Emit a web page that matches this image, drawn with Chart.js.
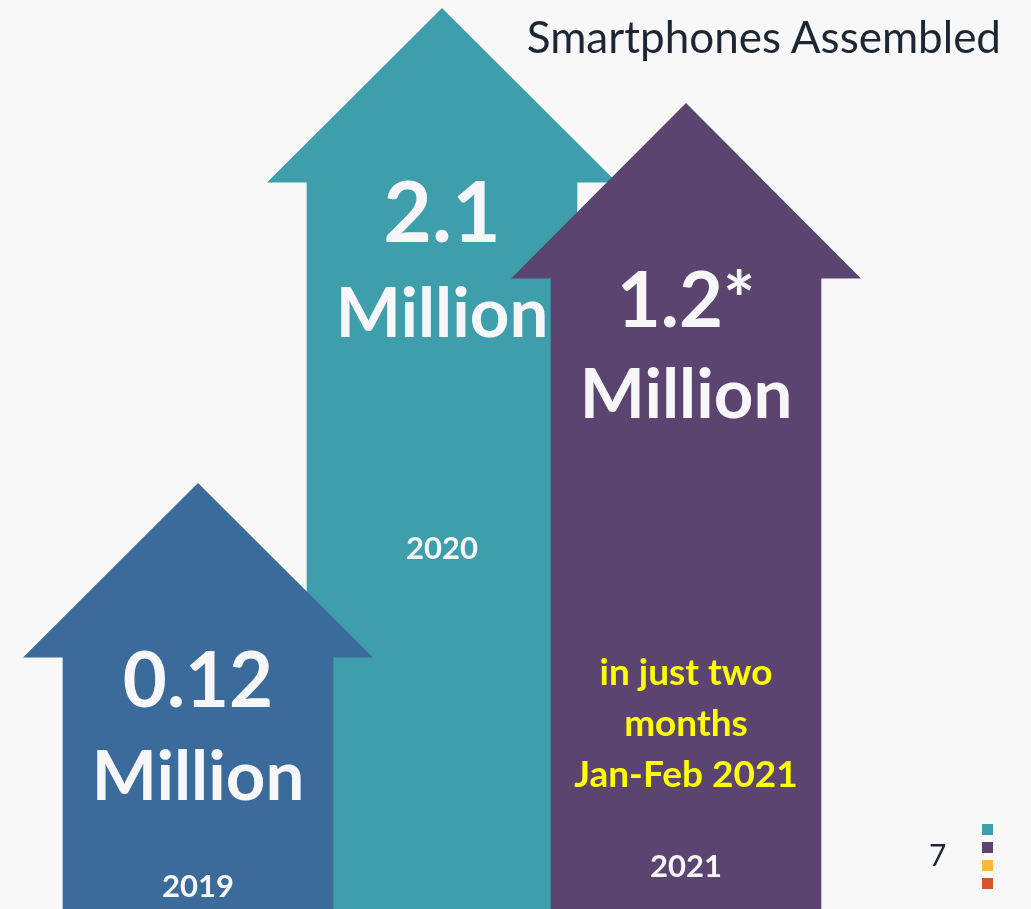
<!DOCTYPE html>
<html>
<head>
<meta charset="utf-8">
<script src="https://cdn.jsdelivr.net/npm/chart.js@4/dist/chart.umd.min.js"></script>
<style>
  html, body { margin: 0; padding: 0; background: #f8f8f9; }
  #wrap { position: relative; width: 1031px; height: 909px; overflow: hidden; }
  #title {
    position: absolute; right: 30px; top: 10px;
    font-family: Lato, "Open Sans", sans-serif; font-size: 44px;
    color: #1d2633; white-space: nowrap;
  }
  #page {
    position: absolute; left: 929px; top: 836px;
    font-family: Lato, sans-serif; font-size: 30px; color: #1d2633;
  }
  .sq { position: absolute; left: 982px; width: 11px; height: 11px; }
</style>
</head>
<body>
<div id="wrap">
  <canvas id="arrows-chart" width="1031" height="909"></canvas>
  <div id="title">Smartphones Assembled</div>
  <div id="page">7</div>
  <div class="sq" style="top:824px;background:#3f9fac"></div>
  <div class="sq" style="top:842px;background:#5b446f"></div>
  <div class="sq" style="top:860px;background:#ffb833"></div>
  <div class="sq" style="top:878px;background:#d9532f"></div>
</div>
<script>
// Smartphones assembled - arrow chart

let years = ['2019', '2020', '2021'];
let valueLabels = ['0.12', '2.1', '1.2*'];
// arrow heights as drawn (shaft top and tip), in chart units
let shaftTops = [252, 727, 631];
let tipTops = [426, 901, 806];
let noteLines = ['in just two', 'months', 'Jan-Feb 2021'];

let arrowColors = ['#3a6b9a', '#3f9eac', '#5b446f'];
let drawOrder = [1, 2, 0]; // 2020 sits behind the others

// text placement inside each arrow (px below shaft top / baseline of year)
let numberOffset = [50, 60, 49];
let numberSize = [76, 84, 76];
let millionOffset = [143, 155, 140];
let yearBaseline = [897, 559, 877];

// one dataset per year so the arrows can overlap
let datasets = years.map(function (year, i) {
    return {
        label: year,
        data: years.map(function (y, j) { return j === i ? shaftTops[i] : null; }),
        backgroundColor: arrowColors[i],
        borderWidth: 0,
        barThickness: 270,
        grouped: false,
        clip: false,
        order: drawOrder[i],
        tipValue: tipTops[i]
    };
});

// arrow heads, drawn right after each dataset so the stacking stays right
const arrowHeads = {
    id: 'arrowHeads',
    afterDatasetDraw(chart, args) {
        const ctx = chart.ctx;
        const ds = chart.data.datasets[args.index];
        const yScale = chart.scales.y;
        args.meta.data.forEach(function (bar, j) {
            if (ds.data[j] == null) return;
            const half = bar.width / 2 + 40;
            const tipY = yScale.getPixelForValue(ds.tipValue);
            ctx.save();
            ctx.fillStyle = ds.backgroundColor;
            ctx.beginPath();
            ctx.moveTo(bar.x - half, bar.y + 0.5);
            ctx.lineTo(bar.x, tipY);
            ctx.lineTo(bar.x + half, bar.y + 0.5);
            ctx.closePath();
            ctx.fill();
            ctx.restore();
        });
    },
    afterDatasetsDraw(chart) {
        const ctx = chart.ctx;
        const font = 'Lato, "Open Sans", sans-serif';
        ctx.save();
        ctx.textAlign = 'center';
        ctx.textBaseline = 'alphabetic';
        chart.data.datasets.forEach(function (ds, i) {
            const bar = chart.getDatasetMeta(i).data[i];
            const top = bar.y;
            ctx.fillStyle = '#f7f7f9';
            ctx.font = 'bold ' + numberSize[i] + 'px ' + font;
            ctx.fillText(valueLabels[i], bar.x, top + numberOffset[i]);
            ctx.font = 'bold 69px ' + font;
            ctx.fillText('Million', bar.x, top + millionOffset[i]);
            ctx.font = 'bold 31px ' + font;
            ctx.fillText(years[i], bar.x, yearBaseline[i]);
        });
        // note inside the 2021 arrow
        const bar21 = chart.getDatasetMeta(2).data[2];
        ctx.fillStyle = '#ffff00';
        ctx.font = 'bold 37px ' + font;
        noteLines.forEach(function (line, k) {
            ctx.fillText(line, bar21.x, 685 + k * 51);
        });
        ctx.restore();
    }
};

const arrowsCtx = document.getElementById('arrows-chart').getContext('2d');
const arrowsChart = new Chart(arrowsCtx, {
    type: 'bar',
    data: {
        labels: years,
        datasets: datasets
    },
    options: {
        responsive: false,
        animation: false,
        layout: {
            padding: { top: 0, right: 223, bottom: 0, left: 76 }
        },
        scales: {
            x: { display: false },
            y: { display: false, min: 0, max: 909 }
        },
        plugins: {
            legend: { display: false },
            tooltip: { enabled: false }
        }
    },
    plugins: [arrowHeads]
});
</script>
</body>
</html>
